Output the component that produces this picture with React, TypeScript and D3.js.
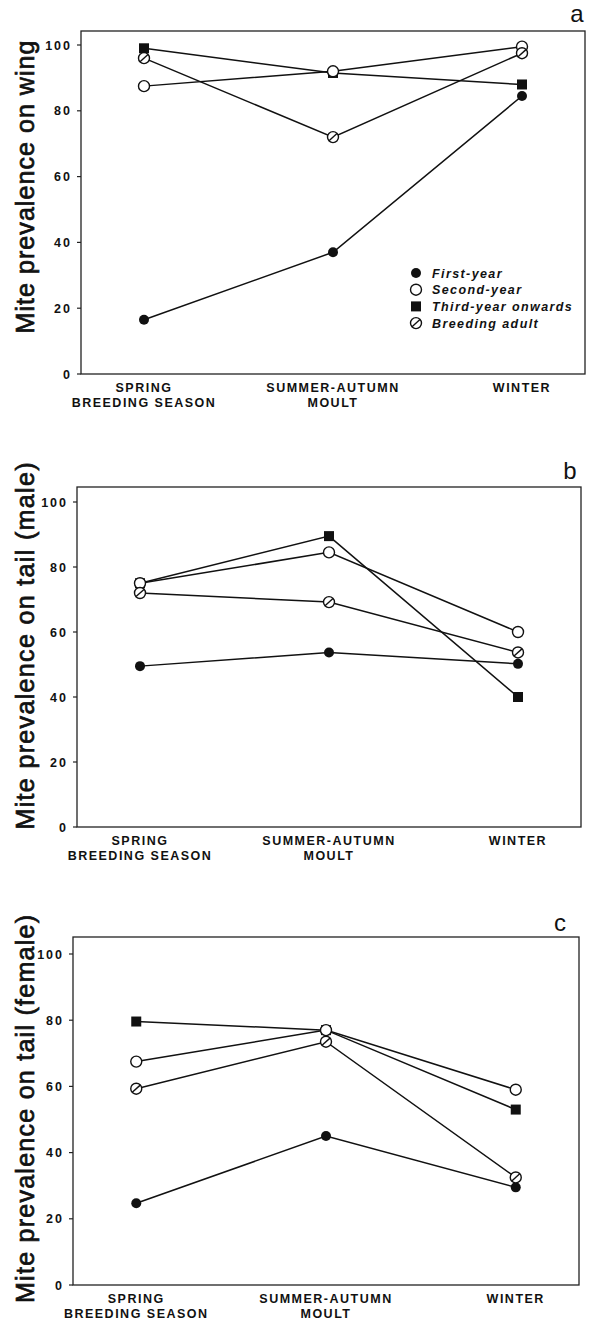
import { useEffect, useRef } from 'react';
import { select, scaleLinear, scalePoint, line } from 'd3';

// categories / ticks
const seasons = ['spring', 'summer', 'winter'];
const seasonLabels = [['SPRING', 'BREEDING SEASON'], ['SUMMER-AUTUMN', 'MOULT'], ['WINTER']];
const yTicks = [0, 20, 40, 60, 80, 100];
const seriesNames = ['First-year', 'Second-year', 'Third-year onwards', 'Breeding adult'];
const seriesKinds = ['filled', 'open', 'square', 'half'];

// panel a - wing
const wingFirst = [16.5, 37, 84.5];
const wingSecond = [87.5, 92, 99.5];
const wingThird = [99, 91.5, 88];
const wingBreeding = [96, 72, 97.5];

// panel b - tail, male
const maleFirst = [49.5, 53.7, 50.2];
const maleSecond = [75, 84.5, 60];
const maleThird = [75, 89.5, 40];
const maleBreeding = [72, 69.2, 53.7];

// panel c - tail, female
const femaleFirst = [24.7, 45, 29.5];
const femaleSecond = [67.5, 77, 59];
const femaleThird = [79.6, 77, 53];
const femaleBreeding = [59.3, 73.5, 32.5];

const panelTitles = ['Mite prevalence on wing', 'Mite prevalence on tail (male)', 'Mite prevalence on tail (female)'];
const panelLetters = ['a', 'b', 'c'];

const panels = [
    { series: [wingFirst, wingSecond, wingThird, wingBreeding], left: 81, right: 585, top: 31, y0: 374, y100: 45, letter: [577, 22], titleY: 187, titleLen: 293, legend: true },
    { series: [maleFirst, maleSecond, maleThird, maleBreeding], left: 77, right: 581, top: 487, y0: 827, y100: 502, letter: [570, 479], titleY: 646, titleLen: 367, legend: false },
    { series: [femaleFirst, femaleSecond, femaleThird, femaleBreeding], left: 73, right: 579, top: 937, y0: 1285, y100: 954, letter: [560, 931], titleY: 1109, titleLen: 388, legend: false },
];

// drawing order so overlapping markers stack like the original
const drawOrder = [2, 0, 1, 3];

const font = '"Liberation Sans", Arial, sans-serif';

const drawMarker = (g, kind, x, y) => {
    if (kind === 'filled') {
        g.append('circle').attr('cx', x).attr('cy', y).attr('r', 5).attr('fill', '#111');
    } else if (kind === 'square') {
        g.append('rect').attr('x', x - 5).attr('y', y - 5).attr('width', 10).attr('height', 10).attr('fill', '#111');
    } else {
        g.append('circle').attr('cx', x).attr('cy', y).attr('r', 5.5)
            .attr('fill', 'white').attr('stroke', '#111').attr('stroke-width', 1.4);
        if (kind === 'half') {
            g.append('line')
                .attr('x1', x - 4).attr('y1', y + 3.6)
                .attr('x2', x + 4).attr('y2', y - 3.6)
                .attr('stroke', '#111').attr('stroke-width', 1.4);
        }
    }
};

const App = () => {
    const svgRef = useRef(null);

    useEffect(() => {
        const svg = select(svgRef.current);
        svg.selectAll('*').remove();

        panels.forEach((p, pi) => {
            const g = svg.append('g');

            const xScale = scalePoint().domain(seasons).range([p.left, p.right]).padding(1 / 3);
            const yScale = scaleLinear().domain([0, 100]).range([p.y0, p.y100]);

            // frame
            g.append('rect')
                .attr('x', p.left).attr('y', p.top)
                .attr('width', p.right - p.left).attr('height', p.y0 - p.top)
                .attr('fill', 'none').attr('stroke', '#222').attr('stroke-width', 1.3);

            // y ticks
            yTicks.forEach(t => {
                g.append('line')
                    .attr('x1', p.left - 4).attr('x2', p.left)
                    .attr('y1', yScale(t)).attr('y2', yScale(t))
                    .attr('stroke', '#222').attr('stroke-width', 1.2);
                g.append('text')
                    .attr('x', p.left - 9).attr('y', yScale(t)).attr('dy', '0.36em')
                    .attr('text-anchor', 'end')
                    .attr('font-family', font).attr('font-weight', 'bold').attr('font-size', 12.5)
                    .attr('letter-spacing', 2)
                    .attr('fill', '#111')
                    .text(t);
            });

            // x category labels
            seasons.forEach((s, i) => {
                seasonLabels[i].forEach((lab, li) => {
                    g.append('text')
                        .attr('x', xScale(s)).attr('y', p.y0 + 18 + li * 15)
                        .attr('text-anchor', 'middle')
                        .attr('font-family', font).attr('font-weight', 'bold').attr('font-size', 12.5)
                        .attr('letter-spacing', 1.5)
                        .attr('fill', '#111')
                        .text(lab);
                });
            });

            // y title
            g.append('text')
                .attr('transform', `translate(34,${p.titleY}) rotate(-90)`)
                .attr('text-anchor', 'middle')
                .attr('font-family', font).attr('font-size', 25)
                .attr('textLength', p.titleLen).attr('lengthAdjust', 'spacing')
                .attr('fill', '#111').attr('stroke', '#111').attr('stroke-width', 0.7)
                .text(panelTitles[pi]);

            // panel letter
            g.append('text')
                .attr('x', p.letter[0]).attr('y', p.letter[1])
                .attr('text-anchor', 'middle')
                .attr('font-family', font).attr('font-size', 24)
                .attr('fill', '#111')
                .text(panelLetters[pi]);

            // lines
            const lineGen = line().x((d, i) => xScale(seasons[i])).y(d => yScale(d));
            drawOrder.forEach(si => {
                g.append('path')
                    .attr('d', lineGen(p.series[si]))
                    .attr('fill', 'none').attr('stroke', '#111').attr('stroke-width', 1.5);
            });

            // markers
            drawOrder.forEach(si => {
                p.series[si].forEach((v, i) => drawMarker(g, seriesKinds[si], xScale(seasons[i]), yScale(v)));
            });

            // legend
            if (p.legend) {
                seriesNames.forEach((name, i) => {
                    const ly = 273 + i * 16.7;
                    drawMarker(g, seriesKinds[i], 416, ly);
                    g.append('text')
                        .attr('x', 432).attr('y', ly).attr('dy', '0.36em')
                        .attr('font-family', font).attr('font-weight', 'bold')
                        .attr('font-style', 'italic').attr('font-size', 12.5)
                        .attr('letter-spacing', 1.4)
                        .attr('fill', '#111')
                        .text(name);
                });
            }
        });
    }, []);

    return (
        <svg ref={svgRef} width={596} height={1324}
            style={{ position: 'absolute', left: 0, top: 0, background: 'white' }} />
    );
};

export default App;
